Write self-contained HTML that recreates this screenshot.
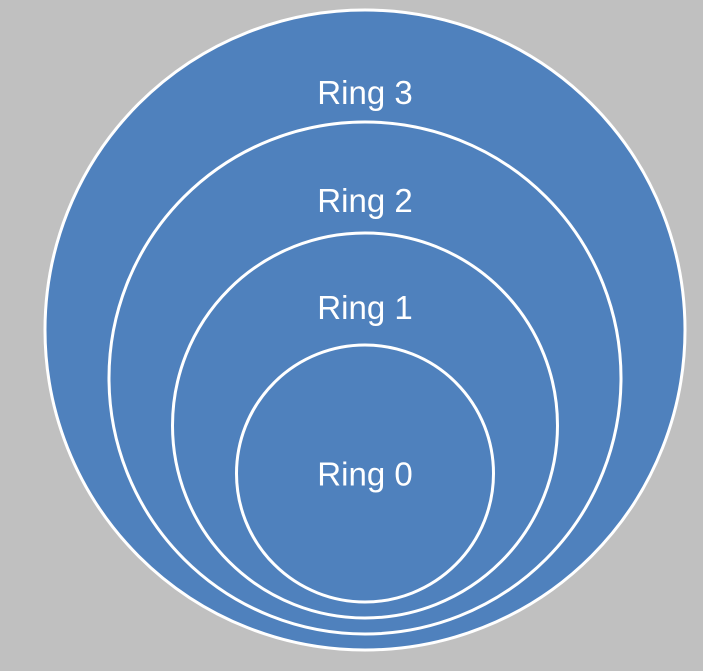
<!DOCTYPE html>
<html><head><meta charset="utf-8"><style>
html,body{margin:0;padding:0;background:#c0c0c0;}
svg{display:block;}
text{font-family:"Liberation Sans","DejaVu Sans",sans-serif;font-size:33px;fill:#fff;}
</style></head><body>
<svg id="chart" width="703" height="671" viewBox="0 0 703 671">
<rect x="0" y="0" width="703" height="671" fill="#c0c0c0"/>
</svg>
<script>
const ringLabels = ["Ring 3","Ring 2","Ring 1","Ring 0"];
const ringRadii = [320, 256, 192.5, 128.5];
const labelOffsets = [238, 178, 118.5, 0];
const svg = document.getElementById('chart');
const NS = 'http://www.w3.org/2000/svg';
const cx = 365, bottom = 650, gap = 16;
ringLabels.forEach((lab, i) => {
  const r = ringRadii[i];
  const cy = bottom - r - i * gap;
  const c = document.createElementNS(NS, 'circle');
  c.setAttribute('cx', cx);
  c.setAttribute('cy', cy);
  c.setAttribute('r', r);
  c.setAttribute('fill', '#4f81bd');
  c.setAttribute('stroke', '#fff');
  c.setAttribute('stroke-width', '3');
  
  
  svg.appendChild(c);
});
ringLabels.forEach((lab, i) => {
  const r = ringRadii[i];
  const cy = bottom - r - i * gap;
  const t = document.createElementNS(NS, 'text');
  t.setAttribute('x', cx);
  t.setAttribute('y', cy - labelOffsets[i] + 12);
  t.setAttribute('text-anchor', 'middle');
  t.textContent = lab;
  
  
  svg.appendChild(t);
});
</script>
</body></html>
